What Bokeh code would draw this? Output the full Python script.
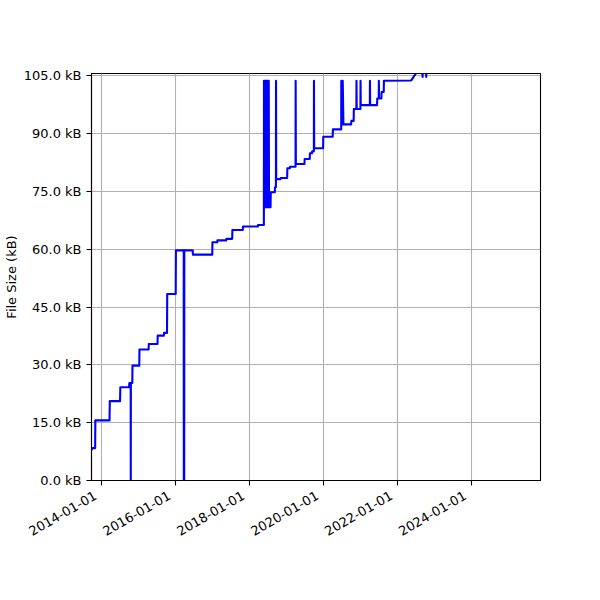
import math
import pandas as pd
from bokeh.plotting import figure
from bokeh.models import (Range1d, FixedTicker, PrintfTickFormatter,
                          ColumnDataSource, DatetimeAxis)
from bokeh.embed import file_html
from bokeh.resources import INLINE

# ---- data ----
commit_dates = [
    "2013-09-25", "2013-10-02", "2013-10-30", "2013-11-01", "2014-03-21", "2014-03-24",
    "2014-07-03", "2014-07-06", "2014-09-30", "2014-10-03", "2014-10-16", "2014-10-17",
    "2014-10-18", "2014-11-01", "2014-11-03", "2015-01-09", "2015-01-11", "2015-04-11",
    "2015-04-13", "2015-07-08", "2015-07-10", "2015-09-09", "2015-09-11", "2015-10-10",
    "2015-10-12", "2016-01-04", "2016-01-06", "2016-03-23", "2016-03-24", "2016-03-25",
    "2016-03-27", "2016-03-28", "2016-03-29", "2016-06-20", "2016-06-22", "2016-12-30",
    "2017-01-01", "2017-02-17", "2017-02-19", "2017-05-17", "2017-05-19", "2017-07-15",
    "2017-07-17", "2017-10-28", "2017-10-30", "2018-03-25", "2018-03-27", "2018-05-24",
    "2018-05-25", "2018-05-28", "2018-06-02", "2018-06-05", "2018-06-10", "2018-06-13",
    "2018-06-18", "2018-06-21", "2018-06-26", "2018-06-29", "2018-07-04", "2018-07-07",
    "2018-07-11", "2018-07-14", "2018-07-29", "2018-07-31", "2018-09-09", "2018-09-11",
    "2018-09-20", "2018-09-21", "2018-09-23", "2018-11-04", "2018-11-06", "2019-01-09",
    "2019-01-11", "2019-02-04", "2019-02-06", "2019-04-02", "2019-04-03", "2019-04-05",
    "2019-06-29", "2019-07-01", "2019-08-20", "2019-08-22", "2019-09-11", "2019-09-13",
    "2019-09-30", "2019-10-01", "2019-10-03", "2019-12-30", "2020-01-01", "2020-04-03",
    "2020-04-05", "2020-06-26", "2020-06-27", "2020-07-04", "2020-07-11", "2020-07-18",
    "2020-10-02", "2020-10-04", "2020-10-27", "2020-10-29", "2020-11-23", "2020-11-24",
    "2020-11-26", "2021-01-02", "2021-01-03", "2021-01-05", "2021-04-05", "2021-04-06",
    "2021-04-08", "2021-06-15", "2021-06-17", "2021-07-02", "2021-07-03", "2021-07-05",
    "2021-07-28", "2021-07-30", "2021-08-20", "2021-08-22", "2022-05-19", "2022-07-21",
    "2022-09-06", "2022-09-08", "2022-09-10", "2022-10-12", "2022-10-14", "2022-10-16",
    "2022-11-01",
]
file_size_kb = [
    7.9, 8.4, 8.4, 15.6, 15.6, 20.6,
    20.6, 24.2, 24.2, 25.3, 25.3, 0.0,
    25.3, 25.3, 29.8, 29.8, 34.0, 34.0,
    35.4, 35.4, 37.6, 37.6, 38.3, 38.3,
    48.4, 48.4, 59.7, 59.7, 0.0, 59.7,
    59.7, 0.0, 59.7, 59.7, 58.6, 58.6,
    61.8, 61.8, 62.3, 62.3, 62.7, 62.7,
    65.0, 65.0, 65.9, 65.9, 66.3, 66.3,
    103.7, 70.9, 103.7, 70.9, 103.7, 70.9,
    103.7, 70.9, 103.7, 70.9, 103.7, 70.9,
    103.7, 70.9, 70.9, 74.8, 74.8, 76.1,
    76.1, 103.7, 78.2, 78.2, 78.5, 78.5,
    81.0, 81.0, 81.4, 81.4, 103.7, 82.1,
    82.1, 83.4, 83.4, 84.9, 84.9, 85.4,
    85.4, 103.7, 86.2, 86.2, 89.2, 89.2,
    91.1, 91.1, 103.7, 92.4, 103.7, 92.4,
    92.4, 93.3, 93.3, 96.4, 96.4, 103.7,
    96.4, 96.4, 103.7, 97.4, 97.4, 103.7,
    97.4, 97.4, 99.1, 99.1, 103.7, 99.1,
    99.1, 100.8, 100.8, 103.7, 103.8, 106.3,
    106.3, 104.7, 106.3, 106.3, 104.7, 106.3,
    106.3,
]
y_ticks = [0, 15, 30, 45, 60, 75, 90, 105]
x_tick_dates = ["2014-01-01", "2016-01-01", "2018-01-01", "2020-01-01", "2022-01-01", "2024-01-01"]
x_start, x_end = "2013-09-24", "2025-11-16"
y_start, y_end = 0.0, 105.6

src = ColumnDataSource(dict(date=pd.to_datetime(commit_dates), size=file_size_kb))

p = figure(x_axis_type="datetime", output_backend="svg", toolbar_location=None,
           frame_width=449, frame_height=407,
           min_border_left=83, min_border_right=52, min_border_top=73, min_border_bottom=104,
           x_range=Range1d(pd.Timestamp(x_start), pd.Timestamp(x_end)),
           y_range=Range1d(y_start, y_end))
p.background_fill_color = "white"
p.border_fill_color = "white"
p.outline_line_color = "black"
p.outline_line_width = 1.1

p.line("date", "size", source=src, line_color="#0000ff", line_width=2.1, line_join="round")

# axes
ms = [pd.Timestamp(d).value / 1e6 for d in x_tick_dates]
p.xaxis.ticker = FixedTicker(ticks=ms)
p.xaxis.major_label_overrides = {m: "" for m in ms}
p.yaxis.ticker = FixedTicker(ticks=y_ticks)
p.yaxis.formatter = PrintfTickFormatter(format="%.1f kB")
p.yaxis.axis_label = "File Size (kB)"

for ax in (p.xaxis, p.yaxis):
    ax.axis_line_color = "black"
    ax.axis_line_width = 1.1
    ax.major_tick_line_color = "black"
    ax.major_tick_line_width = 1.1
    ax.major_tick_out = 5
    ax.major_tick_in = 0
    ax.minor_tick_line_color = None
    ax.major_label_text_font = "DejaVu Sans"
    ax.major_label_text_font_size = "13px"
    ax.major_label_text_color = "black"
    ax.major_label_standoff = 5
    ax.axis_label_text_font = "DejaVu Sans"
    ax.axis_label_text_font_size = "13px"
    ax.axis_label_text_font_style = "normal"
    ax.axis_label_text_color = "black"
    ax.axis_label_standoff = 2
p.xaxis.major_label_text_font_size = "0px"
p.xaxis.major_label_standoff = 0

# rotated date labels (right-aligned like autofmt_xdate): label axis under the tick axis
shift_ms = 59 * 86400000
label_ticks = [m - shift_ms for m in ms]
label_axis = DatetimeAxis(ticker=FixedTicker(ticks=label_ticks),
                          major_label_overrides={t: d for t, d in zip(label_ticks, x_tick_dates)},
                          axis_line_color=None, major_tick_line_color=None,
                          minor_tick_line_color=None, major_tick_out=0, major_tick_in=0,
                          minor_tick_out=0, minor_tick_in=0,
                          major_label_orientation=math.pi / 6, major_label_standoff=9,
                          major_label_text_font="DejaVu Sans", major_label_text_font_size="13px",
                          major_label_text_color="black")
p.add_layout(label_axis, "below")

p.xgrid.ticker = FixedTicker(ticks=ms)
p.ygrid.ticker = FixedTicker(ticks=y_ticks)
for g in (p.xgrid, p.ygrid):
    g.grid_line_color = "#b0b0b0"
    g.grid_line_width = 1.1

open("out.html", "w").write(file_html(p, INLINE))
